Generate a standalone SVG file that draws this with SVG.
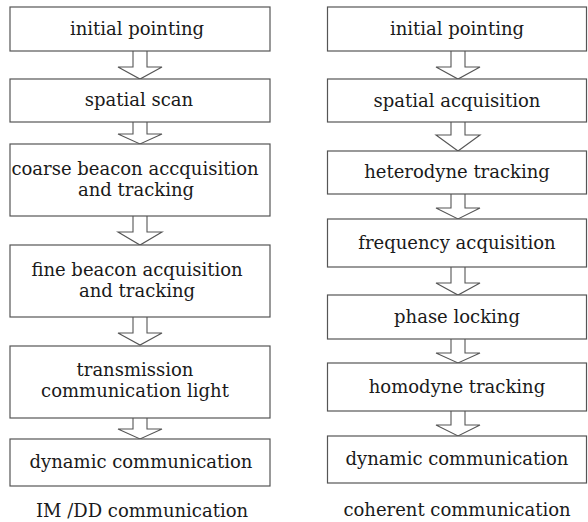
<svg xmlns="http://www.w3.org/2000/svg" width="588" height="522" viewBox="0 0 588 522">
<style>
.box{fill:#fff;stroke:#555;stroke-width:1.2}
.arr{fill:#fff;stroke:#555;stroke-width:1.1;stroke-linejoin:miter}
text{font-family:"DejaVu Serif","Liberation Serif",serif;font-size:18px;fill:#1a1a1a;text-anchor:middle}
</style>
<rect width="588" height="522" fill="#fff"/>
<g id="connectors">
<path class="arr" d="M133,51 V67 H118 L140,79 L162,67 H147 V51"/>
<path class="arr" d="M133,122 V134 H118 L140,144 L162,134 H147 V122"/>
<path class="arr" d="M133,216 V232 H118 L140,245 L162,232 H147 V216"/>
<path class="arr" d="M133,317 V333 H118 L140,345 L162,333 H147 V317"/>
<path class="arr" d="M133,418 V429 H118 L140,439 L162,429 H147 V418"/>
<path class="arr" d="M451,51 V67 H436 L458,79 L480,67 H465 V51"/>
<path class="arr" d="M451,122 V135 H436 L458,151 L480,135 H465 V122"/>
<path class="arr" d="M451,194 V208 H436 L458,219 L480,208 H465 V194"/>
<path class="arr" d="M451,267 V283 H436 L458,295 L480,283 H465 V267"/>
<path class="arr" d="M451,339 V353 H436 L458,363 L480,353 H465 V339"/>
<path class="arr" d="M451,411 V425 H436 L458,436 L480,425 H465 V411"/>
</g>
<g id="L1"><rect class="box" x="10" y="7" width="260" height="44"/><text x="137" y="35">initial pointing</text></g>
<g id="L2"><rect class="box" x="10" y="79" width="260" height="43"/><text x="139" y="106">spatial scan</text></g>
<g id="L3"><rect class="box" x="10" y="144" width="260" height="72"/><text x="135" y="175">coarse beacon accquisition</text><text x="136" y="196">and tracking</text></g>
<g id="L4"><rect class="box" x="10" y="245" width="260" height="72"/><text x="137" y="276">fine beacon acquisition</text><text x="137" y="297">and tracking</text></g>
<g id="L5"><rect class="box" x="10" y="346" width="260" height="72"/><text x="135" y="376">transmission</text><text x="135" y="397">communication light</text></g>
<g id="L6"><rect class="box" x="10" y="439" width="260" height="47"/><text x="141" y="468">dynamic communication</text></g>
<g id="R1"><rect class="box" x="327.5" y="7" width="259" height="44"/><text x="457" y="35">initial pointing</text></g>
<g id="R2"><rect class="box" x="327.5" y="79" width="259" height="43"/><text x="457" y="107">spatial acquisition</text></g>
<g id="R3"><rect class="box" x="327.5" y="151" width="259" height="43"/><text x="457" y="178">heterodyne tracking</text></g>
<g id="R4"><rect class="box" x="327.5" y="219" width="259" height="48"/><text x="457" y="249">frequency acquisition</text></g>
<g id="R5"><rect class="box" x="327.5" y="295" width="259" height="44"/><text x="457" y="323">phase locking</text></g>
<g id="R6"><rect class="box" x="327.5" y="363" width="259" height="48"/><text x="457" y="393">homodyne tracking</text></g>
<g id="R7"><rect class="box" x="327.5" y="436" width="259" height="47"/><text x="457" y="465">dynamic communication</text></g>
<text x="142" y="517">IM /DD communication</text>
<text x="457" y="516">coherent communication</text>
</svg>
